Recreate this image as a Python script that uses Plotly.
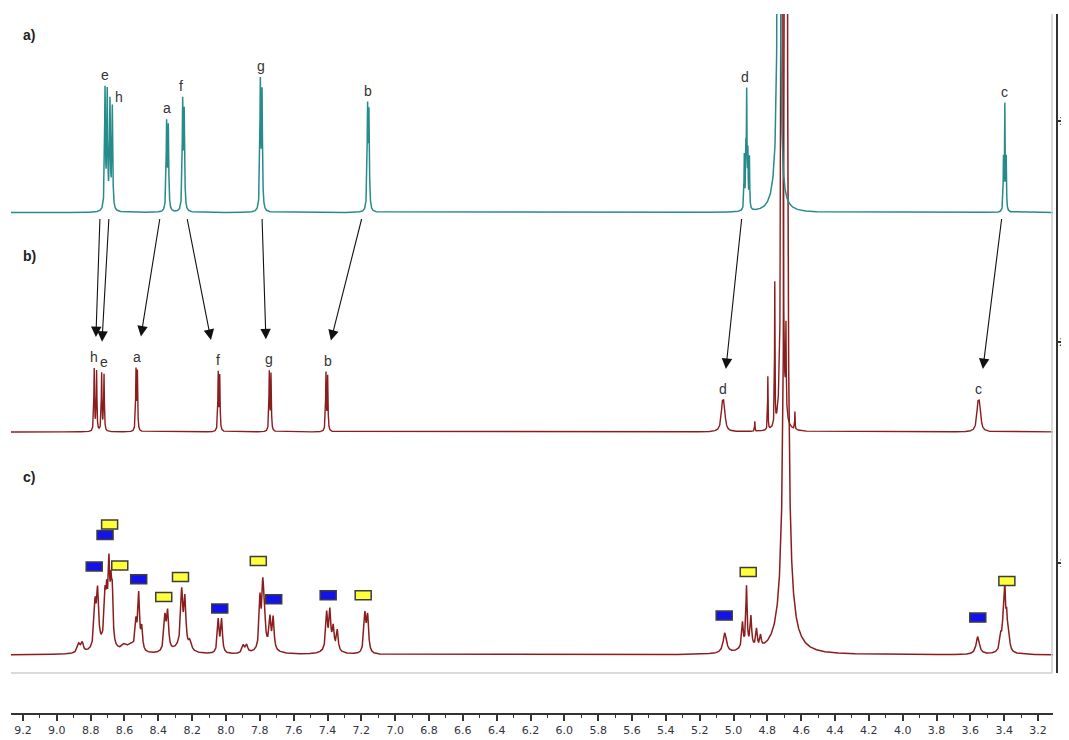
import numpy as np
import plotly.graph_objects as go

# ---------------- data ----------------
# Peak lists: chemical shift (ppm), height above the spectrum's own baseline (axis units), half-width (ppm)

# a) teal spectrum
a_shift = [8.715, 8.702, 8.686, 8.672, 8.351, 8.341, 8.256, 8.247, 7.797, 7.787, 7.163, 7.155,
           4.936, 4.927, 4.922, 4.915, 4.906, 4.732, 4.750, 3.404, 3.396, 3.388]
a_height = [0.54, 0.52, 0.48, 0.46, 0.39, 0.37, 0.48, 0.43, 0.57, 0.52, 0.45, 0.42,
            0.24, 0.24, 0.50, 0.24, 0.23, 6.0, 0.08, 0.23, 0.47, 0.23]
a_width = [0.003, 0.003, 0.003, 0.003, 0.003, 0.003, 0.003, 0.003, 0.003, 0.003, 0.003, 0.003,
           0.002, 0.002, 0.002, 0.002, 0.002, 0.0045, 0.03, 0.002, 0.002, 0.002]

# b) dark red spectrum
b_shift = [8.779, 8.765, 8.735, 8.721, 8.532, 8.524, 8.046, 8.037, 7.744, 7.734, 7.409, 7.399,
           5.066, 5.056, 4.874, 4.797, 4.756, 4.714, 4.690, 4.637, 3.555, 3.545]
b_height = [0.28, 0.27, 0.26, 0.255, 0.27, 0.26, 0.26, 0.245, 0.265, 0.255, 0.26, 0.245,
            0.10, 0.10, 0.045, 0.24, 0.64, 8.0, 0.38, 0.08, 0.10, 0.10]
b_width = [0.0024, 0.0024, 0.0024, 0.0024, 0.0024, 0.0024, 0.0024, 0.0024, 0.0024, 0.0024, 0.0024, 0.0024,
           0.008, 0.008, 0.0015, 0.0015, 0.0015, 0.003, 0.002, 0.0015, 0.008, 0.008]

# c) dark red spectrum (mixture)
c_shift = [8.870, 8.850, 8.774, 8.759, 8.715, 8.705, 8.692, 8.680, 8.672, 8.600, 8.560,
           8.532, 8.516, 8.498, 8.361, 8.345, 8.262, 8.243, 8.213, 8.046, 8.026, 7.898, 7.878,
           7.799, 7.783, 7.774, 7.740, 7.721, 7.405, 7.386, 7.366, 7.342, 7.179, 7.163,
           5.051, 4.947, 4.923, 4.897, 4.864, 4.840, 4.690, 4.690, 3.556, 3.420, 3.405, 3.396,
           3.385, 3.372, 8.720, 8.270, 7.760, 7.380, 4.920, 3.400]
c_height = [0.04, 0.04, 0.19, 0.24, 0.20, 0.17, 0.34, 0.21, 0.21, 0.03, 0.03,
            0.12, 0.25, 0.10, 0.15, 0.17, 0.245, 0.215, 0.04, 0.15, 0.15, 0.035, 0.035,
            0.22, 0.24, 0.17, 0.13, 0.14, 0.16, 0.16, 0.09, 0.09, 0.17, 0.16,
            0.09, 0.11, 0.26, 0.13, 0.08, 0.05, 12.0, 0.30, 0.08, 0.06, 0.13, 0.24,
            0.13, 0.06, 0.04, 0.03, 0.03, 0.03, 0.03, 0.03]
c_width = [0.01, 0.008, 0.007, 0.007, 0.006, 0.005, 0.006, 0.005, 0.005, 0.02, 0.02,
           0.006, 0.006, 0.006, 0.007, 0.007, 0.007, 0.007, 0.01, 0.006, 0.006, 0.008, 0.008,
           0.006, 0.006, 0.006, 0.006, 0.006, 0.006, 0.006, 0.006, 0.006, 0.007, 0.007,
           0.012, 0.005, 0.004, 0.005, 0.005, 0.005, 0.005, 0.04, 0.012, 0.006, 0.005, 0.005,
           0.005, 0.006, 0.06, 0.05, 0.05, 0.04, 0.04, 0.03]

# peak labels (text, ppm position)
a_labels = ["e", "h", "a", "f", "g", "b", "d", "c"]
a_label_ppm = [8.715, 8.634, 8.349, 8.266, 7.793, 7.161, 4.933, 3.396]
b_labels = ["h", "e", "a", "f", "g", "b", "d", "c"]
b_label_ppm = [8.780, 8.721, 8.526, 8.048, 7.746, 7.397, 5.063, 3.550]

# assignment arrows a) -> b): start ppm, end ppm (end label index follows b_labels order)
arrow_from_ppm = [8.745, 8.692, 8.390, 8.231, 7.787, 7.196, 4.951, 3.414]
arrow_to_ppm = [8.769, 8.733, 8.503, 8.089, 7.764, 7.380, 5.045, 3.526]

# coloured markers on spectrum c): ppm, height above baseline (axis units), colour
mark_ppm = [8.779, 8.715, 8.688, 8.628, 8.516, 8.368, 8.269, 8.037, 7.809, 7.718, 7.396, 7.189,
            5.055, 4.913, 3.556, 3.384]
mark_height = [0.400, 0.543, 0.590, 0.405, 0.343, 0.262, 0.353, 0.210, 0.425, 0.252, 0.270, 0.270,
               0.178, 0.375, 0.169, 0.335]
mark_kind = ["blue", "blue", "yellow", "yellow", "blue", "yellow", "yellow", "blue", "yellow", "blue",
             "blue", "yellow", "blue", "yellow", "blue", "yellow"]

x_ticks = [round(3.2 + 0.2 * i, 1) for i in range(31)]
y_ticks = [1, 2, 3]

# ---------------- layout constants ----------------
BASE_A, BASE_B, BASE_C = 2.586, 1.593, 0.584
PX = 221.0  # pixels per y unit
TEAL = "#278b8b"
RED = "#8a1d1d"
FILL = {"blue": "#1212ee", "yellow": "#ffff3a"}

grid = np.arange(3.10, 9.28, 0.0004)
x = np.union1d(grid, np.array(a_shift + b_shift + c_shift))


def spectrum(shifts, heights, widths):
    s = np.asarray(shifts)[:, None]
    h = np.asarray(heights)[:, None]
    w = np.asarray(widths)[:, None]
    return (h * w ** 2 / ((x[None, :] - s) ** 2 + w ** 2)).sum(axis=0)


ya = BASE_A + spectrum(a_shift, a_height, a_width)
yb = BASE_B + spectrum(b_shift, b_height, b_width)
yc = BASE_C + spectrum(c_shift, c_height, c_width)

fig = go.Figure()
fig.add_trace(go.Scatter(x=x, y=yc, mode="lines", line=dict(color=RED, width=1.5), hoverinfo="skip"))
fig.add_trace(go.Scatter(x=x, y=yb, mode="lines", line=dict(color=RED, width=1.4), hoverinfo="skip"))
fig.add_trace(go.Scatter(x=x, y=ya, mode="lines", line=dict(color=TEAL, width=1.5), hoverinfo="skip"))


def local_max(yarr, ppm, win):
    m = (x > ppm - win) & (x < ppm + win)
    return float(yarr[m].max())


label_font = dict(family="Liberation Sans, Arial", size=14, color="#333333")
b_label_top = []
for spec, yarr, labels, ppms in (("a", ya, a_labels, a_label_ppm), ("b", yb, b_labels, b_label_ppm)):
    for t, p in zip(labels, ppms):
        win = 0.05 if (spec, t) == ("a", "h") else 0.014
        top = local_max(yarr, p, win)
        ys = -4 if (spec, t) == ("a", "h") else 0
        if spec == "b":
            b_label_top.append(top)
        fig.add_annotation(x=p, y=top, text=t, showarrow=False,
                           yanchor="bottom", yshift=1 + ys, font=label_font)

# arrows
for i, (p0, p1) in enumerate(zip(arrow_from_ppm, arrow_to_ppm)):
    tip_y = b_label_top[i] + 31 / PX
    fig.add_annotation(x=p1, y=tip_y, ax=p0, ay=BASE_A - 5 / PX, xref="x", yref="y",
                       axref="x", ayref="y", text="", showarrow=True, arrowhead=2,
                       arrowsize=1.9, arrowwidth=1.1, arrowcolor="#111111", standoff=0)

# coloured markers
for p, h, k in zip(mark_ppm, mark_height, mark_kind):
    fig.add_shape(type="rect", xref="x", yref="y", xsizemode="pixel", ysizemode="pixel",
                  xanchor=p, yanchor=BASE_C + h, x0=-8, x1=8, y0=-4.5, y1=4.5,
                  fillcolor=FILL[k], line=dict(color="#3c3c3c", width=1.5), layer="above")

# light gray frame (bottom and right)
fig.add_shape(type="line", xref="x domain", yref="y domain", x0=0, x1=0.999, y0=0, y1=0,
              line=dict(color="#cfcfcf", width=1.5))
fig.add_shape(type="line", xref="x domain", yref="y domain", x0=0.999, x1=0.999, y0=0, y1=1,
              line=dict(color="#cfcfcf", width=1.5))

# right-axis tick labels (partly cut by the page edge, as in the original)
for v in y_ticks:
    fig.add_annotation(xref="paper", yref="y", x=1, y=v, xanchor="left", yanchor="middle",
                       xshift=1, borderpad=0, text=str(v), showarrow=False,
                       font=dict(family="DejaVu Sans", size=11, color="#333333"))

# panel letters
for t, ypx in (("a)", 35), ("b)", 256), ("c)", 477)):
    fig.add_annotation(xref="paper", yref="paper", x=(21 - 11) / 1046, y=(714 - ypx) / 700,
                       xanchor="left", yanchor="middle", text="<b>" + t + "</b>", showarrow=False,
                       font=dict(family="Liberation Sans, Arial", size=14, color="#222222"))

# the page body has an 8 px default margin, so the figure is sized and offset to compensate
fig.update_layout(
    width=1061, height=732,
    margin=dict(l=3, r=12, t=6, b=26, autoexpand=False),
    paper_bgcolor="white", plot_bgcolor="white",
    showlegend=False,
    xaxis=dict(domain=[0, 0.99618], range=[9.2709, 3.1113], anchor="free", position=0,
               automargin=False,
               showgrid=False, zeroline=False, showline=True, linecolor="#333333", linewidth=1.5,
               ticks="outside", ticklen=6, tickwidth=1.5, tickcolor="#333333",
               tickmode="array", tickvals=x_ticks, ticktext=["%.1f" % v for v in x_ticks],
               tickfont=dict(family="DejaVu Sans", size=11, color="#333340"),
               minor=dict(dtick=0.1, tick0=0, ticks="outside", ticklen=3, tickwidth=1.2,
                          tickcolor="#333333", showgrid=False)),
    yaxis=dict(domain=[41 / 700, 1], range=[0.5023, 3.4842], anchor="free", position=1,
               automargin=False,
               side="right", showgrid=False, zeroline=False, showline=True,
               linecolor="#333333", linewidth=2, ticks="outside", ticklen=5, tickwidth=1.5,
               tickcolor="#333333", tickvals=y_ticks, showticklabels=False),
)

fig.write_html("out.html")
